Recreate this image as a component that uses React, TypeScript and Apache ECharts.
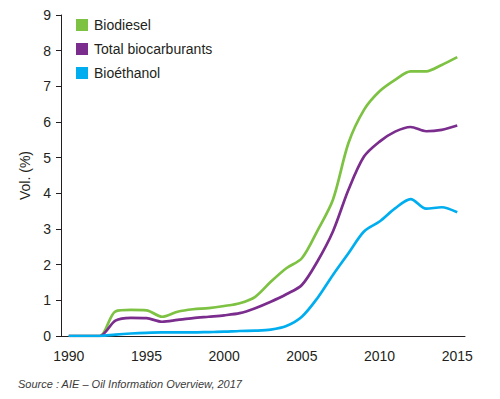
import React, { useEffect, useRef } from "react";
import * as echarts from "echarts";

const years = [
  "1990", "1991", "1992", "1993", "1994", "1995", "1996", "1997", "1998", "1999",
  "2000", "2001", "2002", "2003", "2004", "2005", "2006", "2007", "2008", "2009",
  "2010", "2011", "2012", "2013", "2014", "2015",
];
const biodiesel = [
  0, 0, 0, 0.69, 0.73, 0.72, 0.54, 0.68, 0.75, 0.78,
  0.84, 0.92, 1.1, 1.52, 1.9, 2.18, 2.95, 3.82, 5.41, 6.34,
  6.86, 7.18, 7.42, 7.42, 7.6, 7.82,
];
const total = [
  0, 0, 0, 0.43, 0.51, 0.5, 0.4, 0.45, 0.5, 0.54,
  0.58, 0.64, 0.78, 0.96, 1.17, 1.43, 2.09, 2.93, 4.1, 5.03,
  5.45, 5.73, 5.86, 5.74, 5.78, 5.9,
];
const ethanol = [
  0, 0, 0, 0.04, 0.07, 0.09, 0.1, 0.1, 0.1, 0.11,
  0.12, 0.14, 0.15, 0.18, 0.28, 0.54, 1.06, 1.71, 2.32, 2.93,
  3.21, 3.58, 3.84, 3.57, 3.61, 3.47,
];
const yTicks = [0, 9, 1];
const sourceText = "Source : AIE – Oil Information Overview, 2017";

export default function App() {
  const ref = useRef<HTMLDivElement>(null);
  useEffect(() => {
    if (!ref.current) return;
    const chart = echarts.init(ref.current, undefined, { renderer: "svg" });
    const font = "'Liberation Sans', Arial, Helvetica, sans-serif";
    const mk = (name: string, data: number[], color: string) => ({
      name,
      type: "line",
      data,
      smooth: 0.3,
      showSymbol: false,
      symbol: "none",
      lineStyle: { color, width: 2.7 },
      itemStyle: { color },
    });
    chart.setOption({
      animation: false,
      textStyle: { fontFamily: font },
      grid: { left: 61, top: 15, right: 35, bottom: 63 },
      legend: {
        orient: "vertical",
        left: 71,
        top: 13,
        itemWidth: 12,
        itemHeight: 12,
        itemGap: 10,
        icon: "rect",
        textStyle: { fontSize: 14, color: "#231f20", fontFamily: font, padding: [0, 0, 0, 1] },
        data: ["Biodiesel", "Total biocarburants", "Bioéthanol"],
      },
      xAxis: {
        type: "category",
        data: years,
        boundaryGap: true,
        axisLine: { lineStyle: { color: "#231f20", width: 1 } },
        axisTick: { interval: 0, length: 6, lineStyle: { color: "#231f20" } },
        axisLabel: { interval: 4, fontSize: 14, color: "#231f20", margin: 13 },
        splitLine: { show: false },
      },
      yAxis: {
        type: "value",
        min: yTicks[0],
        max: yTicks[1],
        interval: yTicks[2],
        name: "Vol. (%)",
        nameLocation: "middle",
        nameGap: 27,
        nameTextStyle: { fontSize: 14, color: "#231f20" },
        axisLine: { show: true, lineStyle: { color: "#231f20", width: 1 } },
        axisTick: { show: true, length: 5, lineStyle: { color: "#231f20" } },
        axisLabel: { fontSize: 14, color: "#231f20", margin: 10 },
        splitLine: { show: false },
      },
      series: [
        mk("Biodiesel", biodiesel, "#7dc242"),
        mk("Total biocarburants", total, "#7b2d8e"),
        mk("Bioéthanol", ethanol, "#00aeef"),
      ],
      graphic: [
        {
          type: "text",
          left: 18,
          top: 378,
          style: {
            text: sourceText,
            font: `italic 11px ${font}`,
            fill: "#3a3a3a",
          },
        },
      ],
    });
    return () => chart.dispose();
  }, []);
  return <div ref={ref} style={{ width: 500, height: 399, position: "absolute", left: 0, top: 0 }} />;
}
